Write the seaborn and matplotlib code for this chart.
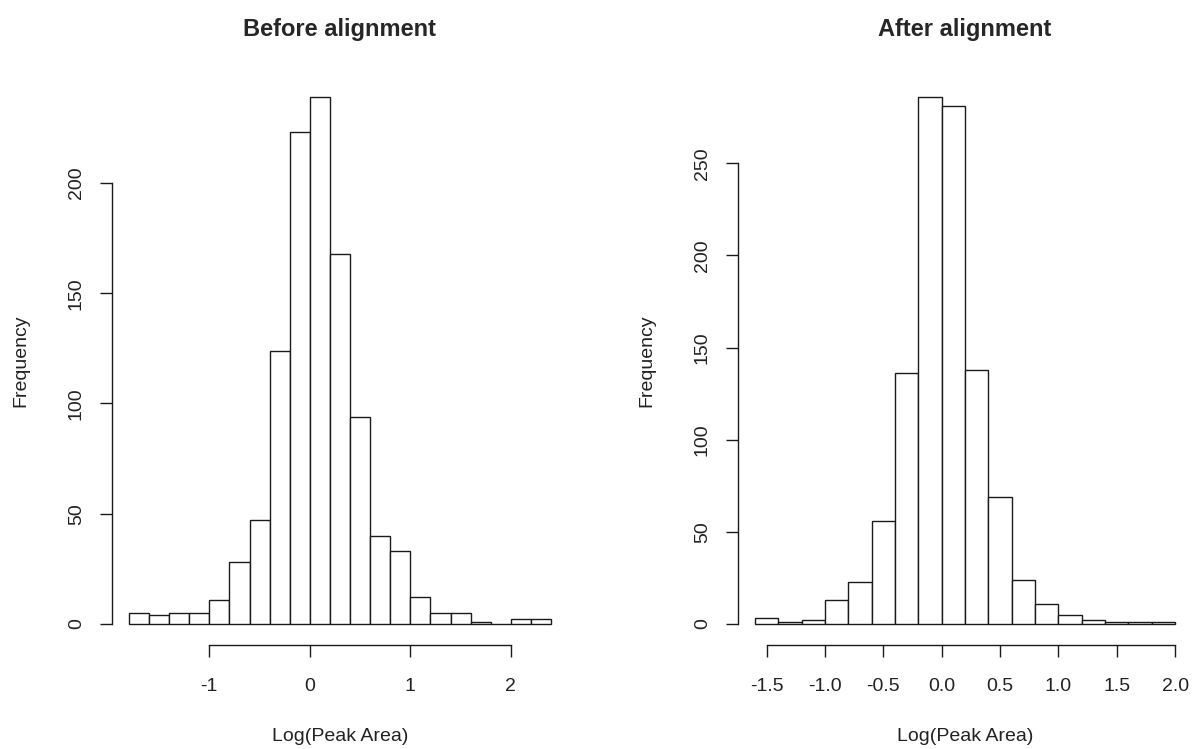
import numpy as np
import pandas as pd
import matplotlib
matplotlib.use('Agg')
import matplotlib.pyplot as plt
import seaborn as sns

sns.set_style('white')
plt.rcParams['font.family'] = ['Liberation Sans', 'DejaVu Sans']

# Histogram counts (bin width 0.2)
before_edges = [-1.8, -1.6, -1.4, -1.2, -1.0, -0.8, -0.6, -0.4, -0.2, 0.0, 0.2,
                0.4, 0.6, 0.8, 1.0, 1.2, 1.4, 1.6, 1.8, 2.0, 2.2, 2.4]
before_counts = [5, 4, 5, 5, 11, 28, 47, 124, 223, 239, 168,
                 94, 40, 33, 12, 5, 5, 1, 0, 2, 2]

after_edges = [-1.6, -1.4, -1.2, -1.0, -0.8, -0.6, -0.4, -0.2, 0.0, 0.2,
               0.4, 0.6, 0.8, 1.0, 1.2, 1.4, 1.6, 1.8, 2.0]
after_counts = [3, 1, 2, 13, 23, 56, 136, 286, 281, 138,
                69, 24, 11, 5, 2, 1, 1, 1]

before_xticks = [-1, 0, 1, 2]
before_xlabels = ['-1', '0', '1', '2']
before_yticks = [0, 50, 100, 150, 200]
after_xticks = [-1.5, -1.0, -0.5, 0.0, 0.5, 1.0, 1.5, 2.0]
after_xlabels = ['-1.5', '-1.0', '-0.5', '0.0', '0.5', '1.0', '1.5', '2.0']
after_yticks = [0, 50, 100, 150, 200, 250]

panels = [
    ('Before alignment', before_edges, before_counts, before_xticks, before_xlabels, before_yticks),
    ('After alignment', after_edges, after_counts, after_xticks, after_xlabels, after_yticks),
]

fig = plt.figure(figsize=(11.94, 7.49), dpi=100)
positions = [[0.0938, 0.1389, 0.3819, 0.7597], [0.6181, 0.1389, 0.3802, 0.7597]]

for pos, (title, edges, counts, xt, xl, yt) in zip(positions, panels):
    ax = fig.add_axes(pos)
    df = pd.DataFrame({
        'mid': (np.array(edges[:-1]) + np.array(edges[1:])) / 2,
        'count': counts,
    })
    sns.histplot(data=df, x='mid', weights='count', bins=edges, ax=ax,
                 color='white', edgecolor='#1a1a1a', linewidth=1.0, alpha=1)

    # R-style 4% padding around the data range
    lo, hi = edges[0], edges[-1]
    pad = 0.04 * (hi - lo)
    ax.set_xlim(lo - pad, hi + pad)
    top = max(counts)
    ax.set_ylim(-0.04 * top, 1.04 * top)

    for side in ['top', 'right']:
        ax.spines[side].set_visible(False)
    for side in ['left', 'bottom']:
        ax.spines[side].set_color('#1a1a1a')
        ax.spines[side].set_linewidth(1.0)
    ax.spines['left'].set_bounds(yt[0], yt[-1])
    ax.spines['bottom'].set_bounds(xt[0], xt[-1])

    ax.set_xticks(xt)
    ax.set_xticklabels(xl)
    ax.set_yticks(yt)
    ax.tick_params(axis='both', direction='out', length=8.6, width=1.0,
                   bottom=True, left=True, top=False, right=False,
                   color='#1a1a1a', labelsize=14, labelcolor='#222222')
    ax.tick_params(axis='x', pad=15)
    ax.tick_params(axis='y', pad=11, labelrotation=90)
    for lab in ax.get_yticklabels():
        lab.set_va('center')

    ax.set_xlabel('Log(Peak Area)', fontsize=14, color='#222222', labelpad=24)
    ax.set_ylabel('Frequency', fontsize=14, color='#222222', labelpad=28)
    ax.set_title(title, fontsize=17, fontweight='bold', pad=29)

fig.savefig('out.png', dpi=100, facecolor='white')
